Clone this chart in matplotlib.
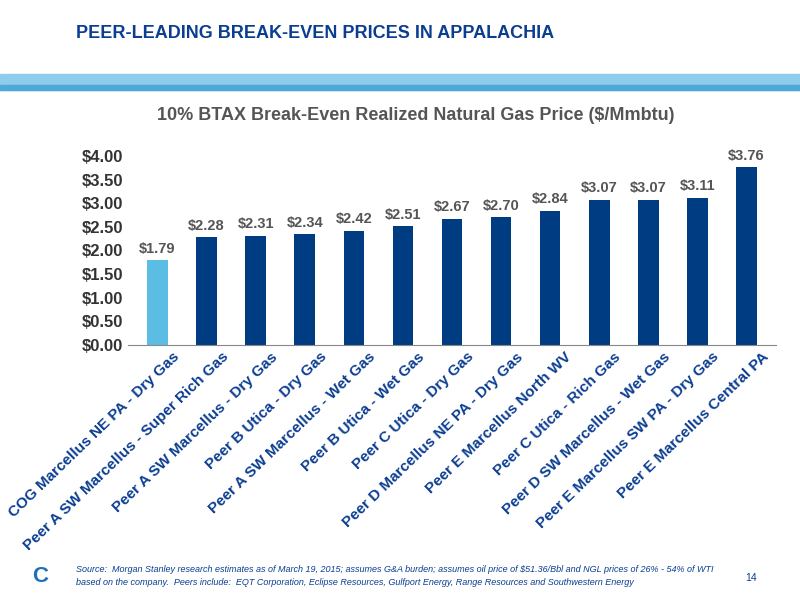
import matplotlib
matplotlib.use("Agg")
import matplotlib.pyplot as plt
from matplotlib.patches import Rectangle

plt.rcParams['font.family'] = ['Liberation Sans', 'DejaVu Sans']

categories = ["COG Marcellus NE PA - Dry Gas", "Peer A SW Marcellus - Super Rich Gas",
              "Peer A SW Marcellus - Dry Gas", "Peer B Utica - Dry Gas",
              "Peer A SW Marcellus - Wet Gas", "Peer B Utica - Wet Gas",
              "Peer C Utica - Dry Gas", "Peer D Marcellus NE PA - Dry Gas",
              "Peer E Marcellus North WV", "Peer C Utica - Rich Gas",
              "Peer D SW Marcellus - Wet Gas", "Peer E Marcellus SW PA - Dry Gas",
              "Peer E Marcellus Central PA"]
values = [1.79, 2.28, 2.31, 2.34, 2.42, 2.51, 2.67, 2.70, 2.84, 3.07, 3.07, 3.11, 3.76]
yticks = [0, 0.5, 1, 1.5, 2, 2.5, 3, 3.5, 4]

navy = "#003C82"
light = "#5BBCE4"
fig = plt.figure(figsize=(8, 6), dpi=100)
fig.text(0.095, 0.945, "PEER-LEADING BREAK-EVEN PRICES IN APPALACHIA", color="#0B3D91",
         fontsize=13, fontweight="bold", va="center")
fig.patches.append(Rectangle((0, 0.85), 1, 0.027, transform=fig.transFigure,
                             color="#8FCBEA", zorder=0))
fig.patches.append(Rectangle((0, 0.85), 1, 0.008, transform=fig.transFigure,
                             color="#4FA8DC", zorder=0))
fig.text(0.52, 0.808, "10% BTAX Break-Even Realized Natural Gas Price ($/Mmbtu)",
         ha="center", va="center", fontsize=13, fontweight="bold", color="#555555")

ax = fig.add_axes([0.16, 0.425, 0.81, 0.315])
x = range(len(values))
colors = [light] + [navy] * (len(values) - 1)
ax.bar(x, values, width=0.42, color=colors)
for xi, v in zip(x, values):
    ax.text(xi, v + 0.1, f"${v:.2f}", ha="center", va="bottom", fontsize=10.5,
            fontweight="bold", color="#555555")
ax.set_ylim(0, 4)
ax.set_xlim(-0.6, len(values) - 0.4)
ax.set_yticks(yticks)
ax.set_yticklabels([f"${t:.2f}" for t in yticks], fontsize=12, fontweight="bold", color="#333333")
ax.set_xticks([xi + 0.3 for xi in x])
ax.set_xticklabels(categories, rotation=44, ha="right", rotation_mode="anchor",
                   fontsize=11, fontweight="bold", color="#0B3D91")
for s in ["top", "right", "left"]:
    ax.spines[s].set_visible(False)
ax.spines["bottom"].set_color("#888888")
ax.tick_params(axis="both", length=0)

fig.text(0.095, 0.04, "Source:  Morgan Stanley research estimates as of March 19, 2015; assumes G&A burden; assumes oil price of $51.36/Bbl and NGL prices of 26% - 54% of WTI\nbased on the company.  Peers include:  EQT Corporation, Eclipse Resources, Gulfport Energy, Range Resources and Southwestern Energy",
         fontsize=6.5, style="italic", color="#0B3D91", va="center", linespacing=1.5)
fig.text(0.932, 0.036, "14", fontsize=7.5, color="#0B3D91", va="center")
fig.text(0.05, 0.04, "C", fontsize=16, fontweight="bold", color="#1E6FB8", ha="center", va="center")
fig.savefig("out.png", dpi=100)
